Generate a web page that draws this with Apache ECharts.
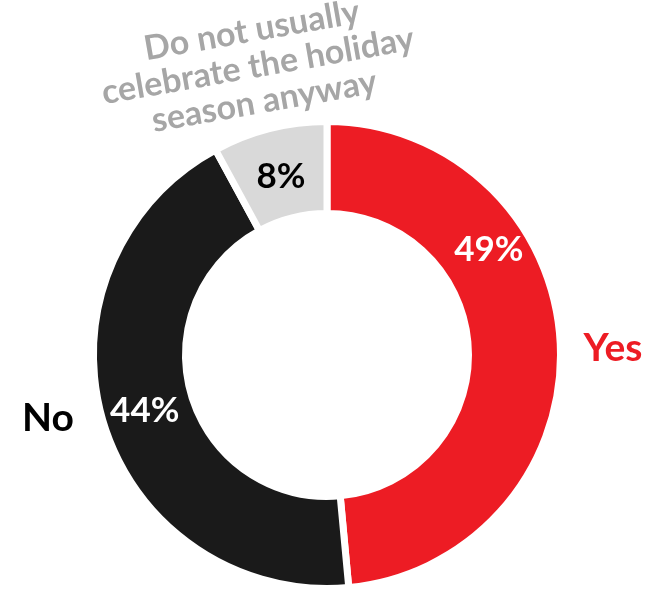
<!DOCTYPE html>
<html><head><meta charset="utf-8">
<script src="https://cdn.jsdelivr.net/npm/echarts@6/dist/echarts.min.js"></script>
<style>html,body{margin:0;padding:0;background:#fff}#c{width:654px;height:598px}</style>
</head><body><div id="c"></div>
<script>
var categories = ['Yes', 'No', 'Do not usually\ncelebrate the holiday\nseason anyway'];
var values = [49, 44, 8];
var colors = ['#ED1C24', '#1A1A1A', '#D9D9D9'];
var pctColors = ['#FFFFFF', '#FFFFFF', '#000000'];
var nameColors = ['#ED1C24', '#000000', '#A6A6A6'];

var CX = 327, CY = 355;
function polar(a, r) {
  var t = a * Math.PI / 180;
  return [CX + r * Math.sin(t), CY - r * Math.cos(t)];
}
var FONT = 'Lato, "Open Sans", sans-serif';

var chart = echarts.init(document.getElementById('c'), null, {renderer: 'canvas'});
var data1 = values.map(function (v, i) {
  return {name: categories[i], value: v,
    itemStyle: {color: colors[i]},
    label: {color: pctColors[i]}};
});
var data2 = values.map(function (v, i) {
  return {name: categories[i], value: v,
    label: {color: nameColors[i], fontSize: i === 2 ? 34 : 39, lineHeight: i === 2 ? 36 : 44}};
});
var namePos = [[613, 348, 0], [48, 418, 0], [258, 66, 10]];

chart.setOption({
  animation: false,
  series: [{
    type: 'pie',
    center: [CX, CY],
    radius: [141.5, 233.5],
    startAngle: 90,
    clockwise: true,
    avoidLabelOverlap: false,
    itemStyle: {borderColor: '#fff', borderWidth: 7},
    label: {show: true, position: 'inside', formatter: '{c}%', fontFamily: FONT, fontWeight: 'bold', fontSize: 35},
    labelLine: {show: false},
    emphasis: {disabled: true},
    labelLayout: function (p) {
      if (p.dataIndex === 0) {
        var pt = polar(57, 193);
        return {x: pt[0], y: pt[1], align: 'center', verticalAlign: 'middle'};
      }
      if (p.dataIndex === 2) {
        var pg = polar(345.5, 184);
        return {x: pg[0], y: pg[1], align: 'center', verticalAlign: 'middle'};
      }
      return {};
    },
    data: data1
  }, {
    type: 'pie',
    center: [CX, CY],
    radius: [141.5, 233.5],
    startAngle: 90,
    clockwise: true,
    avoidLabelOverlap: false,
    silent: true,
    itemStyle: {color: 'rgba(0,0,0,0)', borderWidth: 0},
    label: {show: true, position: 'outside', formatter: '{b}', fontFamily: FONT, fontWeight: 'bold', align: 'center'},
    labelLine: {show: false},
    emphasis: {disabled: true},
    labelLayout: function (p) {
      var q = namePos[p.dataIndex];
      return {x: q[0], y: q[1], rotate: q[2], align: 'center', verticalAlign: 'middle'};
    },
    data: data2
  }]
});
</script></body></html>
